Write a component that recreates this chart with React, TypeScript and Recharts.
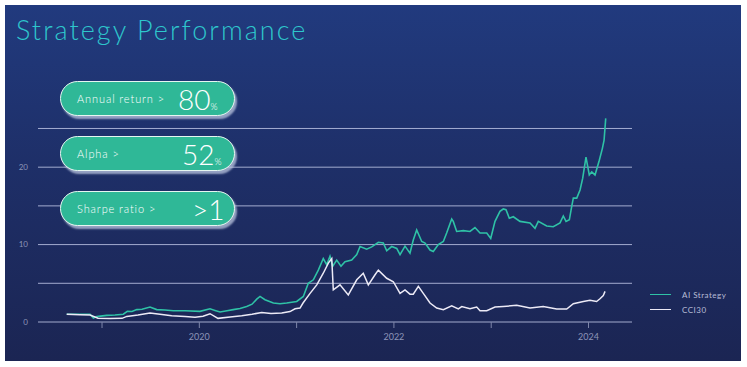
import { LineChart, Line, XAxis, YAxis, CartesianGrid, Legend } from 'recharts';

// dates are fractional years, values are growth multiples
const aiYears = [
  2018.637, 2018.774, 2018.877, 2018.911, 2018.946, 2019.048, 2019.134, 2019.219, 2019.26, 2019.308,
  2019.357, 2019.411, 2019.493, 2019.562, 2019.647, 2019.733, 2019.853, 2020.007, 2020.11, 2020.161,
  2020.213, 2020.285, 2020.349, 2020.418, 2020.487, 2020.542, 2020.59, 2020.624, 2020.675, 2020.761,
  2020.829, 2020.898, 2021.001, 2021.069, 2021.12, 2021.172, 2021.223, 2021.274, 2021.309, 2021.343,
  2021.371, 2021.412, 2021.456, 2021.497, 2021.566, 2021.618, 2021.652, 2021.72, 2021.772, 2021.84,
  2021.891, 2021.926, 2021.977, 2022.029, 2022.063, 2022.114, 2022.165, 2022.199, 2022.234, 2022.286,
  2022.32, 2022.371, 2022.405, 2022.456, 2022.508, 2022.542, 2022.594, 2022.61, 2022.645, 2022.713,
  2022.782, 2022.833, 2022.885, 2022.954, 2022.995, 2023.039, 2023.09, 2023.124, 2023.152, 2023.186,
  2023.227, 2023.296, 2023.399, 2023.45, 2023.484, 2023.57, 2023.638, 2023.707, 2023.741, 2023.769,
  2023.803, 2023.827, 2023.844, 2023.879, 2023.913, 2023.94, 2023.974, 2024.008, 2024.033, 2024.067,
  2024.111, 2024.142, 2024.16, 2024.177,
];
const aiValues = [
  1.0, 1.0, 1.0, 0.5, 0.7, 0.85, 0.9, 1.0, 1.37, 1.35,
  1.6, 1.65, 1.93, 1.6, 1.55, 1.45, 1.45, 1.37, 1.7, 1.5,
  1.29, 1.45, 1.6, 1.75, 2.0, 2.3, 2.96, 3.3, 2.87, 2.45,
  2.35, 2.45, 2.65, 3.3, 5.0, 5.45, 6.7, 8.2, 7.4, 8.5,
  7.2, 8.0, 7.2, 7.8, 8.0, 8.7, 9.75, 9.4, 9.7, 10.3,
  10.2, 9.2, 9.75, 9.5, 8.7, 9.8, 8.9, 10.6, 11.9, 10.4,
  10.2, 9.3, 9.1, 10.0, 10.4, 11.5, 13.3, 13.0, 11.7, 11.8,
  11.7, 12.2, 11.5, 11.5, 10.8, 13.0, 14.3, 14.6, 14.5, 13.4,
  13.6, 13.0, 12.8, 12.1, 13.0, 12.4, 12.3, 12.8, 13.7, 13.0,
  13.2, 14.9, 16.0, 16.0, 17.05, 18.55, 21.3, 19.0, 19.4, 19.0,
  20.9, 22.4, 23.5, 26.3,
];

const cciYears = [
  2018.637, 2018.774, 2018.877, 2018.959, 2019.082, 2019.206, 2019.254, 2019.37, 2019.493, 2019.596,
  2019.716, 2019.853, 2019.956, 2020.038, 2020.11, 2020.192, 2020.316, 2020.436, 2020.542, 2020.641,
  2020.737, 2020.847, 2020.932, 2020.984, 2021.035, 2021.066, 2021.138, 2021.207, 2021.274, 2021.326,
  2021.361, 2021.377, 2021.446, 2021.531, 2021.618, 2021.685, 2021.737, 2021.806, 2021.84, 2021.926,
  2021.994, 2022.063, 2022.114, 2022.165, 2022.199, 2022.251, 2022.302, 2022.371, 2022.44, 2022.508,
  2022.594, 2022.662, 2022.697, 2022.782, 2022.851, 2022.885, 2022.954, 2023.039, 2023.124, 2023.262,
  2023.399, 2023.535, 2023.673, 2023.776, 2023.844, 2023.947, 2024.015, 2024.083, 2024.118, 2024.152,
  2024.17,
];
const cciValues = [
  1.0, 0.95, 0.9, 0.5, 0.45, 0.47, 0.72, 0.9, 1.16, 1.0,
  0.81, 0.7, 0.6, 0.75, 1.07, 0.47, 0.65, 0.8, 1.0, 1.24,
  1.1, 1.15, 1.35, 1.7, 1.8, 2.45, 3.7, 4.8, 6.3, 7.6,
  8.2, 4.15, 4.8, 3.5, 5.45, 6.3, 4.8, 6.1, 6.7, 5.65,
  5.2, 3.7, 4.15, 3.6, 3.6, 4.6, 3.7, 2.45, 1.8, 1.6,
  2.1, 1.7, 2.0, 1.7, 1.93, 1.45, 1.45, 1.93, 2.0, 2.15,
  1.8, 2.0, 1.68, 1.68, 2.36, 2.65, 2.8, 2.65, 3.0, 3.43,
  3.95,
];

const yTicks = [0, 5, 10, 15, 20, 25];
const yLabelled = [0, 10, 20];
const xTicks = [2019, 2020, 2021, 2022, 2023, 2024];
const xLabelled = [2020, 2022, 2024];

const aiData = aiYears.map((t, i) => ({ t, v: aiValues[i] }));
const cciData = cciYears.map((t, i) => ({ t, v: cciValues[i] }));

const TEAL = '#2fc2a6';
const FONT = 'Lato, "Noto Sans", sans-serif';

const pillStyle: React.CSSProperties = {
  position: 'absolute',
  left: 60,
  width: 175,
  height: 35,
  boxSizing: 'border-box',
  borderRadius: 18,
  background: '#2fb897',
  border: '1.5px solid #e6f6f1',
  boxShadow: '2px 3px 2px rgba(190,200,225,0.75)',
  color: '#fff',
  fontFamily: FONT,
};

function Pill({ top, label, value, unit, valueLeft }: { top: number; label: string; value: string; unit?: string; valueLeft: number }) {
  return (
    <div style={{ ...pillStyle, top }}>
      <span style={{ position: 'absolute', left: 16, top: 10, fontSize: 11, fontWeight: 300, letterSpacing: 0.9 }}>{label}</span>
      <span style={{ position: 'absolute', left: valueLeft, top: 2, fontSize: 28, fontWeight: 300, lineHeight: '30px' }}>
        {value}
        {unit && <span style={{ fontSize: 9 }}>{unit}</span>}
      </span>
    </div>
  );
}

function LegendBox({ payload }: any) {
  return (
    <div style={{ fontFamily: FONT, fontSize: 8, color: '#b8bdd6' }}>
      {(payload || []).map((p: any) => (
        <div key={p.value} style={{ display: 'flex', alignItems: 'center', height: 15 }}>
          <span style={{ display: 'inline-block', width: 21, height: 1.5, background: p.color, marginRight: 11 }} />
          <span style={{ letterSpacing: 0.5 }}>{p.value}</span>
        </div>
      ))}
    </div>
  );
}

export default function App() {
  return (
    <div style={{ position: 'fixed', left: 0, top: 0, width: 747, height: 367, background: '#fff', overflow: 'hidden' }}>
      <div
        style={{
          position: 'absolute',
          left: 5,
          top: 5,
          width: 736,
          height: 356,
          background: 'linear-gradient(180deg, #213a7e 0%, #1e2f68 45%, #1b2553 100%)',
        }}
      />
      <div
        style={{
          position: 'absolute',
          left: 16,
          top: 16,
          fontFamily: FONT,
          fontWeight: 300,
          fontSize: 27,
          lineHeight: '27px',
          letterSpacing: 2.05,
          color: '#2ec6cc',
        }}
      >
        Strategy Performance
      </div>
      <div style={{ position: 'absolute', left: 0, top: 0 }}>
        <LineChart width={747} height={367} margin={{ top: 113, right: 115, bottom: 15, left: 8 }}>
          <CartesianGrid horizontal vertical={false} syncWithTicks stroke="#b3badc" strokeOpacity={0.9} />
          <XAxis
            type="number"
            dataKey="t"
            domain={[2018.342, 2024.447]}
            ticks={xTicks}
            allowDataOverflow
            height={30}
            axisLine={false}
            tickLine={{ stroke: '#7d86aa' }}
            tickSize={6}
            tickMargin={6}
            tick={{ fill: '#8d95b8', fontSize: 9, fontFamily: FONT }}
            tickFormatter={(v: number) => (xLabelled.includes(v) ? String(v) : '')}
          />
          <YAxis
            type="number"
            domain={[0, 27]}
            ticks={yTicks}
            allowDataOverflow
            width={30}
            axisLine={false}
            tickLine={false}
            tickSize={0}
            tickMargin={10}
            tick={{ fill: '#8d95b8', fontSize: 8, fontFamily: FONT }}
            tickFormatter={(v: number) => (yLabelled.includes(v) ? String(v) : '')}
          />
          <Legend
            layout="horizontal"
            verticalAlign="middle"
            align="center"
            content={<LegendBox />}
            wrapperStyle={{ position: 'absolute', left: 650, top: 287, width: 90 }}
          />
          <Line
            data={aiData}
            dataKey="v"
            name="AI Strategy"
            type="linear"
            stroke={TEAL}
            strokeWidth={1.6}
            dot={false}
            isAnimationActive={false}
          />
          <Line
            data={cciData}
            dataKey="v"
            name="CCI30"
            type="linear"
            stroke="#eceaf6"
            strokeWidth={1.5}
            dot={false}
            isAnimationActive={false}
          />
        </LineChart>
      </div>
      <Pill top={81} label="Annual return >" value="80" unit="%" valueLeft={117} />
      <Pill top={136} label="Alpha >" value="52" unit="%" valueLeft={121} />
      <Pill top={191} label="Sharpe ratio >" value=">1" valueLeft={131} />
    </div>
  );
}
